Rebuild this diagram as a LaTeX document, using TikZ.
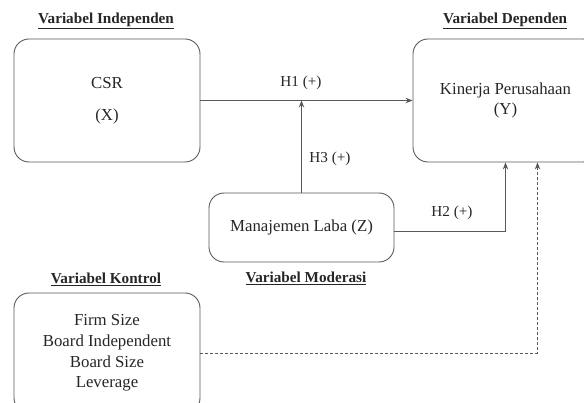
\documentclass[tikz,border=0pt]{standalone}
\usepackage{fontspec}
\setmainfont{Liberation Serif}
\usetikzlibrary{arrows.meta}

\tikzset{
  varbox/.style={draw=black!65, line width=0.9pt, rounded corners=15pt, align=center,
    text=black!85, font=\fontsize{16.8}{20.7}\selectfont, minimum width=186pt},
  heading/.style={text=black!85, font=\fontsize{15.2}{18}\selectfont\bfseries},
  hyplabel/.style={text=black!85, font=\fontsize{15.2}{18}\selectfont},
  link/.style={draw=black!65, line width=0.9pt, -{Stealth[length=7pt,width=5.5pt]}}
}

\begin{document}
\begin{tikzpicture}[x=1pt,y=-1pt]
    % Page frame
    \useasboundingbox (0,0) rectangle (584,403);
    \clip (0,0) rectangle (584,403);

    % Variable boxes
    \node[varbox, minimum height=123pt] (csr) at (107,100.5) {CSR\\[11pt](X)};
    \node[varbox, minimum height=123pt, minimum width=185pt] (kinerja) at (505.5,100.5) {Kinerja Perusahaan\\(Y)};
    \node[varbox, minimum height=69pt, minimum width=185pt] (laba) at (301.5,227.5) {Manajemen Laba (Z)};
    \node[varbox, minimum height=120pt] (kontrol) at (107,353) {Firm Size\\Board Independent\\Board Size\\Leverage};

    % Headings
    \node[heading] (hind) at (106,21) {\underline{Variabel Independen}};
    \node[heading] (hdep) at (505,21) {\underline{Variabel Dependen}};
    \node[heading] (hmod) at (306,278) {\underline{Variabel Moderasi}};
    \node[heading] (hkon) at (106,279) {\underline{Variabel Kontrol}};

    % Hypotheses
    \draw[link] (csr.east) -- (kinerja.west);
    \coordinate (meet) at (laba.north |- csr.east);
    \draw[link] (laba.north) -- (meet);
    \draw[link] ([yshift=-3.5pt]laba.east) -| (kinerja.south);
    \coordinate (ctrl) at ([xshift=32pt]kinerja.south);
    \draw[link, dash pattern=on 3pt off 2pt] (kontrol.east) -| (ctrl);

    \node[hyplabel] (h1) at (301,83) {H1 (+)};
    \node[hyplabel] (h3) at (330,159) {H3 (+)};
    \node[hyplabel] (h2) at (452,213) {H2 (+)};
\end{tikzpicture}
\end{document}
